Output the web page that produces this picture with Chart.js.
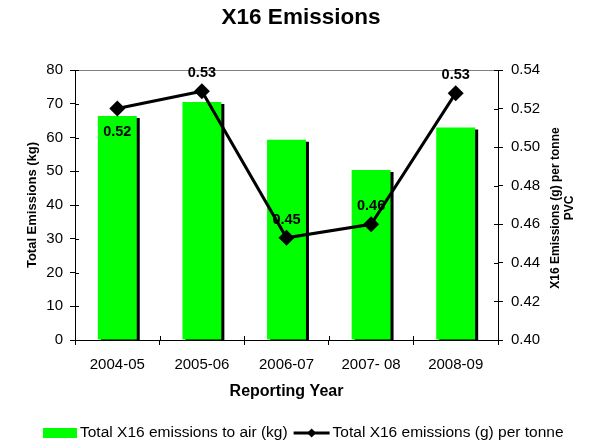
<!DOCTYPE html>
<html><head><meta charset="utf-8">
<script src="https://cdn.jsdelivr.net/npm/chart.js@4"></script>
<style>html,body{margin:0;padding:0;background:#fff}canvas{display:block}</style>
</head><body>
<canvas id="c" width="591" height="444"></canvas>
<script>
const chartTitle = 'X16 Emissions';
const categories = ['2004-05', '2005-06', '2006-07', '2007- 08', '2008-09'];
const airEmissionsKg = [66.4, 70.5, 59.3, 50.4, 63.0];
const emissionsPerTonne = [0.520, 0.529, 0.453, 0.460, 0.528];
const barLabel = 'Total X16 emissions to air (kg)';
const lineLabel = 'Total X16 emissions (g) per tonne';
const leftAxisTitle = 'Total Emissions (kg)';
const rightAxisTitle = ['X16 Emissions (g) per tonne', 'PVC'];
const xAxisTitle = 'Reporting Year';

const FONT = "'Liberation Sans', Arial, Helvetica, sans-serif";
Chart.defaults.font.family = FONT;
Chart.defaults.color = '#000';

const decorPlugin = {
  id: 'decor',
  beforeDatasetsDraw(chart) {
    const {ctx, chartArea: a} = chart;
    ctx.save();
    ctx.strokeStyle = '#808080';
    ctx.lineWidth = 1;
    ctx.beginPath();
    ctx.moveTo(a.left, a.top + 0.5);
    ctx.lineTo(a.right, a.top + 0.5);
    ctx.stroke();
    ctx.restore();
  },
  beforeDatasetDraw(chart, args) {
    if (args.meta.type === 'bar') {
      const ctx = chart.ctx;
      ctx.save();
      ctx.shadowColor = '#000';
      ctx.shadowOffsetX = 3;
      ctx.shadowOffsetY = 2;
      ctx.shadowBlur = 0;
    }
  },
  afterDatasetDraw(chart, args) {
    if (args.meta.type === 'bar') {
      const ctx = chart.ctx;
      ctx.restore();
      // data labels for the line series (drawn under the line)
      const placement = ['below', 'above', 'above', 'above', 'above'];
      const lineMeta = chart.getDatasetMeta(0);
      ctx.save();
      ctx.font = 'bold 14.5px ' + FONT;
      ctx.fillStyle = '#000';
      ctx.textAlign = 'center';
      ctx.textBaseline = 'middle';
      lineMeta.data.forEach((pt, i) => {
        const v = chart.data.datasets[0].data[i];
        const dy = placement[i] === 'below' ? 23 : -18;
        ctx.fillText(v.toFixed(2), pt.x, pt.y + dy);
      });
      ctx.restore();
    }
  },
  afterDraw(chart) {
    const {ctx, chartArea: a, scales} = chart;
    ctx.save();
    // inner parts of crossing tick marks
    ctx.strokeStyle = '#000';
    ctx.lineWidth = 1;
    ctx.beginPath();
    scales.y.ticks.forEach((t, i) => {
      const y = Math.round(scales.y.getPixelForTick(i)) + 0.5;
      ctx.moveTo(a.left, y); ctx.lineTo(a.left + 4, y);
    });
    scales.y1.ticks.forEach((t, i) => {
      const y = Math.round(scales.y1.getPixelForTick(i)) + 0.5;
      ctx.moveTo(a.right - 4, y); ctx.lineTo(a.right, y);
    });
    const n = categories.length;
    for (let i = 0; i <= n; i++) {
      const x = Math.round(a.left + i * a.width / n) + 0.5;
      ctx.moveTo(x, a.bottom - 4); ctx.lineTo(x, a.bottom);
    }
    ctx.stroke();

    // main title
    ctx.fillStyle = '#000';
    ctx.font = 'bold 22.5px ' + FONT;
    ctx.textAlign = 'center';
    ctx.textBaseline = 'middle';
    ctx.fillText(chartTitle, 301, 18);

    // right axis title (reads bottom to top)
    ctx.font = 'bold 12px ' + FONT;
    ctx.save();
    ctx.translate(a.right + 58, (a.top + a.bottom) / 2 + 3);
    ctx.rotate(-Math.PI / 2);
    ctx.fillText(rightAxisTitle[0], 0, 0);
    ctx.fillText(rightAxisTitle[1], 0, 14);
    ctx.restore();

    // legend
    ctx.font = '15.5px ' + FONT;
    ctx.textAlign = 'left';
    const ly = 433;
    let x = 43;
    ctx.fillStyle = chart.data.datasets[1].backgroundColor;
    ctx.fillRect(x, ly - 5, 34, 10);
    x += 37;
    ctx.fillStyle = '#000';
    ctx.fillText(chart.data.datasets[1].label, x, ly);
    x += ctx.measureText(chart.data.datasets[1].label).width + 6;
    ctx.strokeStyle = '#000';
    ctx.lineWidth = 3;
    ctx.beginPath();
    ctx.moveTo(x, ly); ctx.lineTo(x + 36, ly);
    ctx.stroke();
    const cx = x + 18;
    ctx.beginPath();
    ctx.moveTo(cx, ly - 4.5); ctx.lineTo(cx + 4.5, ly); ctx.lineTo(cx, ly + 4.5); ctx.lineTo(cx - 4.5, ly);
    ctx.closePath(); ctx.fill();
    x += 39;
    ctx.fillText(chart.data.datasets[0].label, x, ly);
    ctx.restore();
  }
};

new Chart(document.getElementById('c'), {
  data: {
    labels: categories,
    datasets: [
      {
        type: 'line', label: lineLabel, data: emissionsPerTonne, yAxisID: 'y1',
        borderColor: '#000', backgroundColor: '#000', borderWidth: 3,
        pointStyle: 'rectRot', pointRadius: 8, pointBackgroundColor: '#000',
        pointBorderColor: '#000', pointBorderWidth: 0, tension: 0, order: 0, clip: false
      },
      {
        type: 'bar', label: barLabel, data: airEmissionsKg, yAxisID: 'y',
        backgroundColor: '#00ff00', borderWidth: 0,
        barPercentage: 0.46, categoryPercentage: 1, order: 1
      }
    ]
  },
  options: {
    responsive: false, animation: false, devicePixelRatio: 1,
    layout: {padding: {top: 70, left: 0, right: 0, bottom: 24}},
    plugins: {legend: {display: false}, title: {display: false}, tooltip: {enabled: false}},
    scales: {
      x: {
        offset: true,
        grid: {display: true, drawOnChartArea: false, drawTicks: true, tickLength: 5, color: '#000', tickColor: '#000', offset: true},
        border: {display: true, color: '#000', width: 1},
        ticks: {font: {size: 15}, padding: 11, color: '#000', maxRotation: 0, autoSkip: false},
        title: {display: true, text: xAxisTitle, color: '#000', font: {size: 16, weight: 'bold'}, padding: {top: 0, bottom: 19}},
        afterFit(s) { s.height = 80; }
      },
      y: {
        position: 'left', min: 0, max: 80,
        ticks: {stepSize: 10, font: {size: 15}, padding: 7, color: '#000'},
        grid: {drawOnChartArea: false, tickLength: 5, color: '#000', tickColor: '#000'},
        border: {color: '#000', width: 1},
        title: {display: true, text: leftAxisTitle, color: '#000', font: {size: 13, weight: 'bold'}, padding: {top: 25, bottom: 0}},
        afterFit(s) { s.width = 75; }
      },
      y1: {
        position: 'right', min: 0.40, max: 0.54,
        ticks: {stepSize: 0.02, font: {size: 15}, padding: 8, color: '#000', callback: v => Number(v).toFixed(2)},
        grid: {drawOnChartArea: false, tickLength: 5, color: '#000', tickColor: '#000'},
        border: {color: '#000', width: 1},
        afterFit(s) { s.width = 93; }
      }
    }
  },
  plugins: [decorPlugin]
});
</script>
</body></html>
